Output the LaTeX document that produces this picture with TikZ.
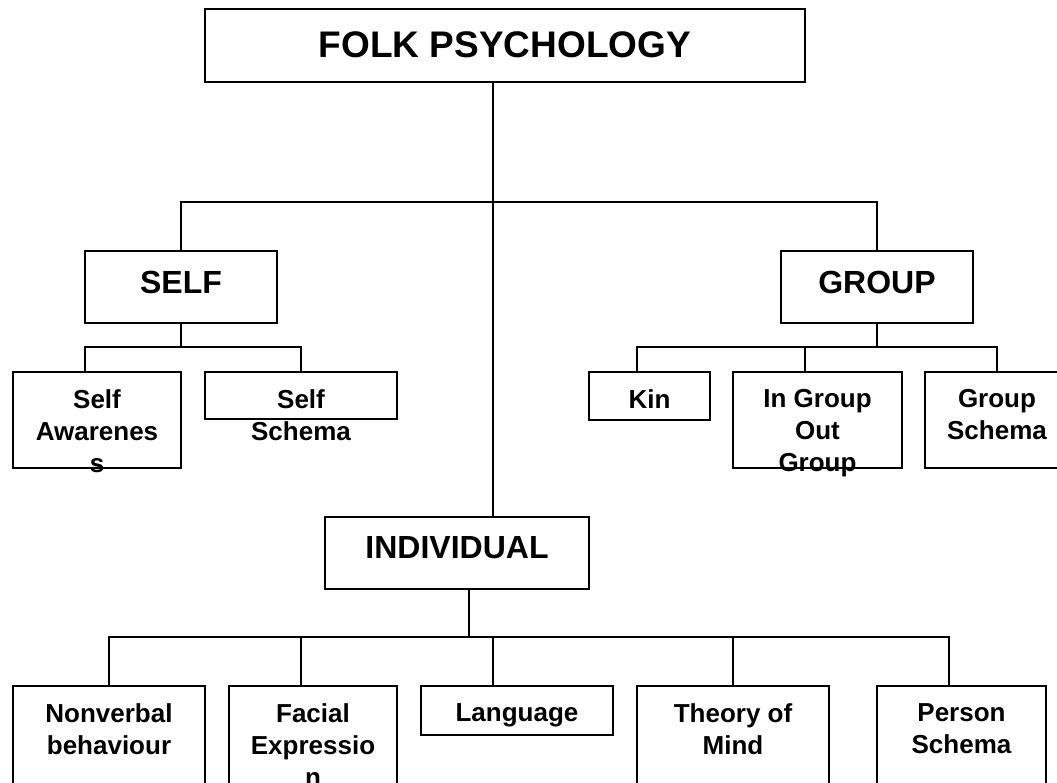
\documentclass[tikz,border=0pt]{standalone}
\usepackage{fontspec}
\setmainfont{Liberation Sans}
\usetikzlibrary{positioning}

\begin{document}
\begin{tikzpicture}[x=1pt,y=-1pt]
  \tikzset{
    box/.style={draw,line width=1.5pt,inner sep=0pt,outer sep=0pt,anchor=north west},
    bigtext/.style={font=\bfseries\fontsize{32}{38}\selectfont,anchor=base,inner sep=0pt},
    smalltext/.style={font=\bfseries\fontsize{26}{32}\selectfont,align=center,inner sep=0pt},
    link/.style={line width=1.5pt}
  }
  \useasboundingbox (0,0) rectangle (1057,782);
  \clip (0,0) rectangle (1057,782);

  % boxes
  \node[box,minimum width=600pt,minimum height=73pt] (folk) at (205,9) {};
  \node[box,minimum width=192pt,minimum height=72pt] (self) at (85,251) {};
  \node[box,minimum width=192pt,minimum height=72pt] (group) at (781,251) {};
  \node[box,minimum width=168pt,minimum height=96pt] (selfaw) at (13,372) {};
  \node[box,minimum width=192pt,minimum height=47pt] (selfsc) at (205,372) {};
  \node[box,minimum width=121pt,minimum height=48pt] (kin) at (589,372) {};
  \node[box,minimum width=169pt,minimum height=96pt] (ingroup) at (733,372) {};
  \node[box,minimum width=144pt,minimum height=96pt] (grpsch) at (925,372) {};
  \node[box,minimum width=264pt,minimum height=72pt] (indiv) at (325,517) {};
  \node[box,minimum width=192pt,minimum height=110pt] (nonverb) at (13,686) {};
  \node[box,minimum width=168pt,minimum height=110pt] (facial) at (229,686) {};
  \node[box,minimum width=192pt,minimum height=49pt] (lang) at (421,686) {};
  \node[box,minimum width=192pt,minimum height=110pt] (theory) at (637,686) {};
  \node[box,minimum width=169pt,minimum height=110pt] (person) at (877,686) {};

  % texts
  \node[bigtext,font=\bfseries\fontsize{37}{44}\selectfont] (folk-t) at ([yshift=-48pt]folk.north) {FOLK PSYCHOLOGY};
  \node[bigtext] (self-t) at ([yshift=-42pt]self.north) {SELF};
  \node[bigtext] (group-t) at ([yshift=-42pt]group.north) {GROUP};
  \node[bigtext] (indiv-t) at ([yshift=-41pt]indiv.north) {INDIVIDUAL};
  \node[smalltext,below=17pt of selfaw.north] (selfaw-t) {Self\\Awarenes\\s};
  \node[smalltext,below=17pt of selfsc.north] (selfsc-t) {Self\\Schema};
  \node[smalltext,below=17pt of kin.north] (kin-t) {Kin};
  \node[smalltext,below=17pt of ingroup.north] (ingroup-t) {In Group\\Out\\Group};
  \node[smalltext,below=17pt of grpsch.north] (grpsch-t) {Group\\Schema};
  \node[smalltext,below=17pt of nonverb.north] (nonverb-t) {Nonverbal\\behaviour};
  \node[smalltext,below=17pt of facial.north] (facial-t) {Facial\\Expressio\\n};
  \node[smalltext,below=17pt of lang.north] (lang-t) {Language};
  \node[smalltext,below=17pt of theory.north] (theory-t) {Theory of\\Mind};
  \node[smalltext,below=17pt of person.north] (person-t) {Person\\Schema};

  % connectors
  \coordinate (hub) at (493,202);
  \draw[link] ([xshift=-12pt]folk.south) -- ([xshift=36pt]indiv.north);
  \draw[link] (self.north) |- (hub) -| (group.north);

  \draw[link] (self.south) -- ++(0,24) coordinate (selfbus);
  \draw[link] ([xshift=-12pt]selfaw.north) |- (selfbus) -| (selfsc.north);

  \draw[link] (group.south) -- ++(0,24) coordinate (groupbus);
  \draw[link] ([xshift=-12.5pt]kin.north) |- (groupbus) -| (grpsch.north);
  \draw[link] ([xshift=-12.5pt]ingroup.north) -- ++(0,-25);

  \draw[link] ([xshift=12pt]indiv.south) -- ++(0,48) coordinate (indbus);
  \draw[link] (nonverb.north) |- (indbus) -| ([xshift=-12.5pt]person.north);
  \foreach \n/\s in {facial/-12,lang/-24,theory/0}
    \draw[link] ([xshift=\s pt]\n.north) -- ++(0,-49);
\end{tikzpicture}
\end{document}
